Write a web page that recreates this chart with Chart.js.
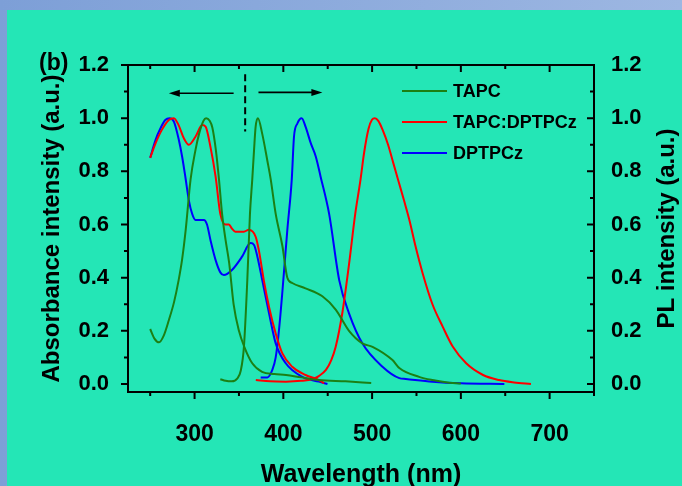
<!DOCTYPE html>
<html>
<head>
<meta charset="utf-8">
<script src="https://cdn.jsdelivr.net/npm/chart.js@4.4.1/dist/chart.umd.min.js"></script>
<style>
  html, body { margin: 0; padding: 0; background: #8aa8dc; }
  canvas { display: block; }
</style>
</head>
<body>
<canvas id="chart" width="682" height="486"></canvas>
<script>
// spectra (wavelength in nm, normalised intensity)
const tapcAbsNm  = [250, 255, 260, 265, 271, 277, 282, 286, 290, 295.5, 301, 305, 310, 313, 317, 320, 324, 327.5, 331, 335, 339, 344, 350, 356, 365, 376, 390, 403, 420, 440, 470, 499];
const tapcAbsVal = [0.207, 0.17, 0.157, 0.18, 0.24, 0.31, 0.39, 0.47, 0.58, 0.77, 0.88, 0.94, 0.99, 1.0, 0.99, 0.965, 0.88, 0.77, 0.64, 0.54, 0.455, 0.30, 0.20, 0.14, 0.078, 0.046, 0.038, 0.034, 0.025, 0.015, 0.01, 0.004];

const tapcPlNm  = [329, 335, 342, 348, 352, 355.6, 359.4, 362.4, 365, 367, 368.8, 371.4, 376.3, 382, 385.8, 391.4, 398.9, 404.5, 410, 425, 444, 459, 474, 489, 500.5, 523, 531, 553, 568, 587, 600];
const tapcPlVal = [0.018, 0.012, 0.01, 0.02, 0.05, 0.14, 0.39, 0.64, 0.77, 0.88, 0.968, 1.0, 0.94, 0.84, 0.77, 0.64, 0.52, 0.40, 0.38, 0.36, 0.33, 0.28, 0.20, 0.153, 0.14, 0.09, 0.059, 0.027, 0.015, 0.005, 0.002];

const mixAbsNm  = [250, 256, 263, 271, 276.7, 282, 288, 293.6, 301, 308.6, 312.4, 318, 323.7, 329, 334.7, 338.7, 342, 346, 350, 355.6, 361, 368.8, 372.6, 378, 383.9, 391.4, 398.9, 410, 425, 440, 446];
const mixAbsVal = [0.851, 0.905, 0.955, 0.993, 1.0, 0.974, 0.924, 0.90, 0.93, 0.974, 0.968, 0.89, 0.78, 0.64, 0.60, 0.60, 0.585, 0.573, 0.573, 0.573, 0.58, 0.554, 0.50, 0.39, 0.29, 0.19, 0.115, 0.065, 0.034, 0.015, 0.003];

const mixPlNm  = [369, 385, 403, 420, 433, 440, 448, 454, 459, 466.6, 474, 481, 487, 491, 496, 500, 503, 507, 512, 518, 524, 530, 536, 542, 549, 557, 568, 579.5, 591, 606, 625, 643, 660, 679];
const mixPlVal = [0.015, 0.01, 0.009, 0.012, 0.019, 0.03, 0.053, 0.09, 0.14, 0.27, 0.45, 0.64, 0.77, 0.87, 0.96, 0.995, 1.0, 0.99, 0.955, 0.90, 0.83, 0.76, 0.69, 0.617, 0.517, 0.416, 0.30, 0.216, 0.14, 0.078, 0.034, 0.015, 0.006, 0.0];

const dpAbsNm  = [250, 256, 261.6, 267, 271.8, 276.7, 282.3, 286, 289.8, 293.6, 297.3, 301, 310.5, 314, 318, 323.7, 329, 333, 342.4, 353.7, 363, 367, 370.7, 376.3, 383.9, 391.4, 402.7, 421.4, 440, 449.7];
const dpAbsVal = [0.851, 0.918, 0.962, 0.993, 1.0, 0.987, 0.918, 0.855, 0.775, 0.69, 0.64, 0.617, 0.617, 0.60, 0.54, 0.466, 0.42, 0.41, 0.43, 0.48, 0.53, 0.523, 0.48, 0.39, 0.266, 0.153, 0.078, 0.027, 0.009, 0.0];

const dpPlNm  = [374.5, 382, 387.6, 391.4, 395, 399, 404.5, 409.5, 412, 415.8, 420.7, 425, 431, 436.6, 442, 451.6, 463, 474, 489, 511.7, 530.7, 538, 568, 600, 649];
const dpPlVal = [0.025, 0.025, 0.053, 0.10, 0.20, 0.35, 0.58, 0.77, 0.93, 0.98, 1.0, 0.968, 0.905, 0.855, 0.78, 0.64, 0.39, 0.266, 0.153, 0.065, 0.022, 0.019, 0.009, 0.003, 0.0];

const xMajorTicks = [300, 400, 500, 600, 700];
const xMinorTicks = [250, 350, 450, 550, 650, 750];
const yMajorTicks = [0.0, 0.2, 0.4, 0.6, 0.8, 1.0, 1.2];
const yMinorTicks = [0.1, 0.3, 0.5, 0.7, 0.9, 1.1];

// divider and arrows drawn above the peaks (nm / intensity)
const dividerNm = 357;
const dividerRange = [0.95, 1.165];
const leftArrow = { from: 344, to: 271, level: 1.094 };
const rightArrow = { from: 372, to: 444, level: 1.097 };

const GREEN = 'rgb(28,128,20)';
const RED = '#ff0000';
const BLUE = '#0000ff';
const FONT = '"Liberation Sans", Arial, sans-serif';

const pts = (xs, ys) => xs.map((x, i) => ({ x: x, y: ys[i] }));

const bgPlugin = {
  id: 'bg',
  beforeDraw(chart) {
    const ctx = chart.ctx;
    const w = chart.width, h = chart.height;
    ctx.save();
    const g = ctx.createLinearGradient(0, 0, w, 0);
    g.addColorStop(0, '#7d9fd7');
    g.addColorStop(1, '#9db7e2');
    ctx.fillStyle = g;
    ctx.fillRect(0, 0, w, h);
    ctx.fillStyle = '#24e6b6';
    ctx.fillRect(7, 10, w - 7, h - 10);
    ctx.restore();
  }
};

const framePlugin = {
  id: 'frame',
  afterDatasetsDraw(chart) {
    const ctx = chart.ctx;
    const a = chart.chartArea;
    const xs = chart.scales.x, ys = chart.scales.y;
    ctx.save();
    ctx.strokeStyle = '#000';
    ctx.lineWidth = 2;
    ctx.strokeRect(a.left, a.top, a.right - a.left, a.bottom - a.top);

    const tick = (list, len) => {
      list.forEach(v => {
        const px = xs.getPixelForValue(v);
        ctx.beginPath();
        ctx.moveTo(px, a.bottom); ctx.lineTo(px, a.bottom + len);
        ctx.moveTo(px, a.top); ctx.lineTo(px, a.top + len);
        ctx.stroke();
      });
    };
    const ytick = (list, len) => {
      list.forEach(v => {
        const py = ys.getPixelForValue(v);
        ctx.beginPath();
        ctx.moveTo(a.left - len, py); ctx.lineTo(a.left, py);
        ctx.moveTo(a.right - len, py); ctx.lineTo(a.right, py);
        ctx.stroke();
      });
    };
    tick(xMajorTicks, 7);
    tick(xMinorTicks, 4);
    ytick(yMajorTicks, 7);
    ytick(yMinorTicks, 4);
    ctx.restore();
  }
};

const notesPlugin = {
  id: 'notes',
  afterDraw(chart) {
    const ctx = chart.ctx;
    const xs = chart.scales.x, ys = chart.scales.y, ys2 = chart.scales.y2;
    ctx.save();
    ctx.strokeStyle = '#000';
    ctx.fillStyle = '#000';

    // dashed divider
    ctx.lineWidth = 2;
    ctx.setLineDash([7, 4]);
    ctx.beginPath();
    ctx.moveTo(xs.getPixelForValue(dividerNm), ys.getPixelForValue(dividerRange[1]));
    ctx.lineTo(xs.getPixelForValue(dividerNm), ys.getPixelForValue(dividerRange[0]));
    ctx.stroke();
    ctx.setLineDash([]);

    const arrow = (ar) => {
      const x0 = xs.getPixelForValue(ar.from), x1 = xs.getPixelForValue(ar.to);
      const y = ys.getPixelForValue(ar.level);
      const dir = x1 > x0 ? 1 : -1;
      ctx.lineWidth = 1.6;
      ctx.beginPath();
      ctx.moveTo(x0, y); ctx.lineTo(x1 - dir * 8, y);
      ctx.stroke();
      ctx.beginPath();
      ctx.moveTo(x1, y);
      ctx.lineTo(x1 - dir * 11, y - 3.5);
      ctx.lineTo(x1 - dir * 11, y + 3.5);
      ctx.closePath();
      ctx.fill();
    };
    arrow(leftArrow);
    arrow(rightArrow);

    // panel label
    ctx.font = 'bold 23px ' + FONT;
    ctx.textBaseline = 'middle';
    ctx.textAlign = 'left';
    ctx.fillText('(b)', 39, 64);

    // right axis title reads bottom-to-top like the left one
    ctx.save();
    ctx.translate(ys2.right - 15, (ys2.top + ys2.bottom) / 2);
    ctx.rotate(-Math.PI / 2);
    ctx.textAlign = 'center';
    ctx.font = 'bold 24px ' + FONT;
    ctx.fillText('PL intensity (a.u.)', 0, 0);
    ctx.restore();

    // legend
    ctx.font = 'bold 18px ' + FONT;
    ctx.textAlign = 'left';
    let row = 0;
    chart.data.datasets.forEach(ds => {
      if (!ds.inLegend) return;
      const y = 91 + row * 31;
      ctx.strokeStyle = ds.borderColor;
      ctx.lineWidth = 2;
      ctx.beginPath();
      ctx.moveTo(402, y); ctx.lineTo(447, y);
      ctx.stroke();
      ctx.fillStyle = '#000';
      ctx.fillText(ds.label, 453, y + 1);
      row++;
    });
    ctx.restore();
  }
};

const tickFont = size => ({ family: FONT, size: size, weight: 'bold' });

new Chart(document.getElementById('chart'), {
  type: 'line',
  data: {
    datasets: [
      { label: 'TAPC', data: pts(tapcAbsNm, tapcAbsVal), borderColor: GREEN, yAxisID: 'y', inLegend: true },
      { label: 'TAPC PL', data: pts(tapcPlNm, tapcPlVal), borderColor: GREEN, yAxisID: 'y2' },
      { label: 'TAPC:DPTPCz', data: pts(mixAbsNm, mixAbsVal), borderColor: RED, yAxisID: 'y', inLegend: true },
      { label: 'TAPC:DPTPCz PL', data: pts(mixPlNm, mixPlVal), borderColor: RED, yAxisID: 'y2' },
      { label: 'DPTPCz', data: pts(dpAbsNm, dpAbsVal), borderColor: BLUE, yAxisID: 'y', inLegend: true },
      { label: 'DPTPCz PL', data: pts(dpPlNm, dpPlVal), borderColor: BLUE, yAxisID: 'y2' }
    ]
  },
  options: {
    responsive: false,
    animation: false,
    devicePixelRatio: 1,
    layout: { padding: { top: 65, left: 0, right: 0, bottom: 0 } },
    elements: {
      point: { radius: 0 },
      line: { borderWidth: 2, cubicInterpolationMode: 'monotone', fill: false }
    },
    plugins: {
      legend: { display: false },
      tooltip: { enabled: false }
    },
    scales: {
      x: {
        type: 'linear',
        position: 'bottom',
        min: 225,
        max: 750,
        grid: { display: false },
        border: { display: false },
        afterBuildTicks: s => { s.ticks = xMajorTicks.map(v => ({ value: v })); },
        ticks: {
          color: '#000',
          font: tickFont(23),
          padding: 21,
          maxRotation: 0,
          autoSkip: false,
          callback: v => String(v)
        },
        title: {
          display: true,
          text: 'Wavelength (nm)',
          color: '#000',
          font: { family: FONT, size: 25, weight: 'bold', lineHeight: 0.9 },
          padding: 0
        },
        afterFit: s => { s.height = 94; }
      },
      y: {
        position: 'left',
        min: -0.03,
        max: 1.2,
        grid: { display: false },
        border: { display: false },
        afterBuildTicks: s => { s.ticks = yMajorTicks.map(v => ({ value: v })); },
        ticks: {
          color: '#000',
          font: tickFont(22),
          padding: 11,
          callback: v => v.toFixed(1)
        },
        title: {
          display: true,
          text: 'Absorbance intensity (a.u.)',
          color: '#000',
          font: { family: FONT, size: 24, weight: 'bold', lineHeight: 1.2 },
          padding: { top: 38, bottom: 0 }
        },
        afterFit: s => { s.width = 128; }
      },
      y2: {
        position: 'right',
        min: -0.03,
        max: 1.2,
        grid: { display: false },
        border: { display: false },
        afterBuildTicks: s => { s.ticks = yMajorTicks.map(v => ({ value: v })); },
        ticks: {
          color: '#000',
          font: tickFont(22),
          padding: 9,
          callback: v => v.toFixed(1)
        },
        title: { display: false },
        afterFit: s => { s.width = 88; }
      }
    }
  },
  plugins: [bgPlugin, framePlugin, notesPlugin]
});
</script>
</body>
</html>
